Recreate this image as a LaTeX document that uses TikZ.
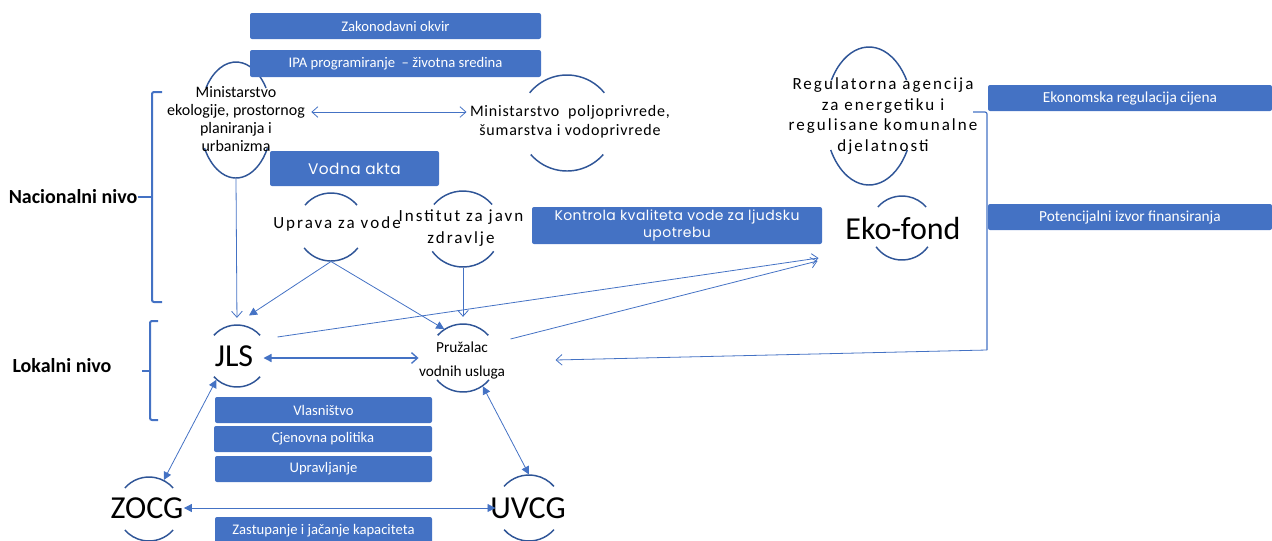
\documentclass[tikz,border=0pt]{standalone}
\usepackage{fontspec}
\setmainfont{Carlito}
\newfontfamily\tracked[LetterSpace=12]{Carlito}
\newfontfamily\loose[LetterSpace=5]{Carlito}
\newfontfamily\gothic[LetterSpace=3]{Poppins}
\usetikzlibrary{arrows.meta,calc,shapes.geometric}
\definecolor{boxblue}{RGB}{68,114,196}
\definecolor{rimblue}{RGB}{47,85,151}
\tikzset{every picture/.style={line width=0.75pt}}
\tikzset{chev/.tip={Straight Barb[length=4.5pt,width=8pt]}, trg/.tip={Triangle[length=6pt,width=6pt]}}

\begin{document}
\begin{tikzpicture}[x=0.75pt,y=0.75pt,yscale=-1,
  panel/.style={fill=boxblue, text=white, rounded corners=1.5pt, inner sep=0pt, font=\fontsize{11}{13}\selectfont},
  ring/.style={circle, inner sep=0pt, minimum size=#1},
  oval/.style={ellipse, inner sep=0pt},
  rim/.style={draw=rimblue, line width=1.1pt},
  link/.style={draw=boxblue, line width=0.6pt},
  bracket/.style={draw=boxblue, line width=1.5pt, rounded corners=1.5pt},
  txt/.style={inner sep=0pt, align=center}]
\useasboundingbox (0,0) rectangle (1272,540);
\clip (0,0) rectangle (1272,540);

% Ring Nodes
\node[ring=46.5pt] (jls) at (237,356) {};
\node[ring=51pt] (pruz) at (463,358) {};
\node[ring=51pt] (uprava) at (331,227) {};
\node[ring=57pt] (institut) at (463,229) {};
\node[ring=48pt] (ekofond) at (902,228) {};
\node[ring=48pt] (zocg) at (149,509) {};
\node[ring=49.5pt] (uvcg) at (529,508) {};
\node[ring=72pt] (poljo) at (567,123) {};
\node[oval, minimum width=54pt, minimum height=87pt] (mineko) at (236,120) {};
\node[oval, minimum width=66pt, minimum height=103.5pt] (regag) at (869,116) {};

%Curve Lines
\foreach \n/\rx/\ry/\t/\b in {jls/31/31/42/42, pruz/34/34/42/40, uprava/34/34/40/38, institut/38/38/40/36,
    ekofond/32/32/41/36, zocg/32/32/41/41, uvcg/33/33/41/41, poljo/48/48/39/41,
    mineko/36/58/33.5/28.9, regag/44/69/31.4/29.5}
{
  \draw[rim] (\n.center) ++(180+\t:{\rx} and {\ry}) arc[start angle=180+\t, end angle=360-\t, x radius=\rx, y radius=\ry];
  \draw[rim] (\n.center) ++(\b:{\rx} and {\ry}) arc[start angle=\b, end angle=180-\b, x radius=\rx, y radius=\ry];
}

% Text Node
\node[txt, font=\fontsize{12}{13.5}\selectfont] (minekoL) at (236,119) {Ministarstvo\\ekologije, prostornog\\planiranja i\\urbanizma};
\node[txt, font=\loose\fontsize{12}{14.25}\selectfont] (poljoL) at (570,121.5) {Ministarstvo\ \ poljoprivrede,\\šumarstva i vodoprivrede};
\node[txt, font=\tracked\fontsize{12.75}{15.5}\selectfont] (regagL) at (883,116) {Regulatorna agencija\\za energetiku i\\regulisane komunalne\\djelatnosti};
\node[txt, font=\tracked\fontsize{12.75}{15}\selectfont] (upravaL) at (337,224) {Uprava za vode};
\node[txt, font=\tracked\fontsize{12.75}{17}\selectfont] (institutL) at (461,228) {Institut za javn\\zdravlje};
\node[txt, font=\fontsize{11.5}{18}\selectfont] (pruzL) at (462,360) {Pružalac\\vodnih usluga};
\node[txt, font=\fontsize{24}{28}\selectfont] (jlsL) at (234,356) {JLS};
\node[txt, font=\fontsize{24}{28}\selectfont] (ekofondL) at (903,228) {Eko-fond};
\node[txt, font=\fontsize{24}{28}\selectfont] (zocgL) at (147,508) {ZOCG};
\node[txt, font=\fontsize{24}{28}\selectfont] (uvcgL) at (528,508) {UVCG};
\node[txt, font=\bfseries\fontsize{15}{18}\selectfont] (nacL) at (73,197) {Nacionalni nivo};
\node[txt, font=\bfseries\fontsize{15}{18}\selectfont] (lokL) at (62,366) {Lokalni nivo};

%Straight Lines
\draw[link, chev-chev] ($(minekoL.east)+(6,-7)$) -- ($(poljoL.west)+(-3,-9.5)$);
\draw[link, -chev, shorten >=5pt] (mineko.south) -- (jls.north);
\draw[link, -trg] (uprava.south) -- ($(jls.north)+(12,-9)$);
\draw[link, -trg] (uprava.south) -- (pruz.123);
\draw[link, -chev, shorten >=5pt] (institut.south) -- (pruz.north);
\coordinate (ekoin) at ($(ekofond.west)+(-51,30)$);
\draw[link, -chev] ($(jls.east)+(9,-19)$) -- (ekoin);
\draw[link, -chev] ($(pruz.east)+(13,-19)$) -- ($(ekoin)+(-1,3)$);
\draw[link, line width=1pt, trg-chev] ($(jls.east)+(-5,2)$) -- ($(pruzL.west)+(0,-2)$);
\draw[link, trg-trg] (jls.229) -- (zocg.63);
\draw[link, trg-trg] (pruz.305) -- (uvcg.north);
\draw[link, trg-trg] (zocgL.east) -- (uvcg.west);

% Brackets
\draw[bracket] (162,92) -| (152,302) -- (162,302);
\draw[bracket] (nacL.east) -- (152,197);
\draw[bracket] (158,321) -| (150,420) -- (158,420);
\draw[bracket] (150,371) -- (142,371);
\draw[bracket, line width=0.9pt] (973,112) -| (987,350) coordinate (brk);
\draw[link, -chev] (brk) -- ($(pruz.east)+(58,2)$);

% Boxes
\node[panel, minimum width=218.25pt, minimum height=19.5pt] (zakon) at (395.5,26) {Zakonodavni okvir};
\node[panel, minimum width=218.25pt, minimum height=20.25pt] (ipa) at (395.5,63.5) {IPA programiranje\ \ – životna sredina};
\node[panel, minimum width=126.75pt, minimum height=26.25pt, font=\gothic\fontsize{11.5}{13}\selectfont] (vodna) at (354.5,168.5) {Vodna akta};
\node[panel, minimum width=217.5pt, minimum height=27.75pt, align=center, font=\gothic\fontsize{10.5}{12.75}\selectfont] (kontrola) at (677,225.5) {Kontrola kvaliteta vode za ljudsku\\upotrebu};
\node[panel, minimum width=213pt, minimum height=19.5pt, font=\fontsize{11.5}{13}\selectfont] (ekonom) at (1130,98) {Ekonomska regulacija cijena};
\node[panel, minimum width=213pt, minimum height=19.5pt, font=\fontsize{11.5}{13}\selectfont] (poten) at (1130,217) {Potencijalni izvor finansiranja};
\node[panel, minimum width=162.75pt, minimum height=19.5pt] (vlas) at (323.5,410) {Vlasništvo};
\node[panel, minimum width=163.5pt, minimum height=19.5pt] (cjen) at (323,439) {Cjenovna politika};
\node[panel, minimum width=162.75pt, minimum height=19.5pt] (uprav) at (323.5,469) {Upravljanje};
\node[panel, minimum width=162.75pt, minimum height=21pt] (zast) at (323.5,531) {Zastupanje i jačanje kapaciteta};

\end{tikzpicture}
\end{document}
